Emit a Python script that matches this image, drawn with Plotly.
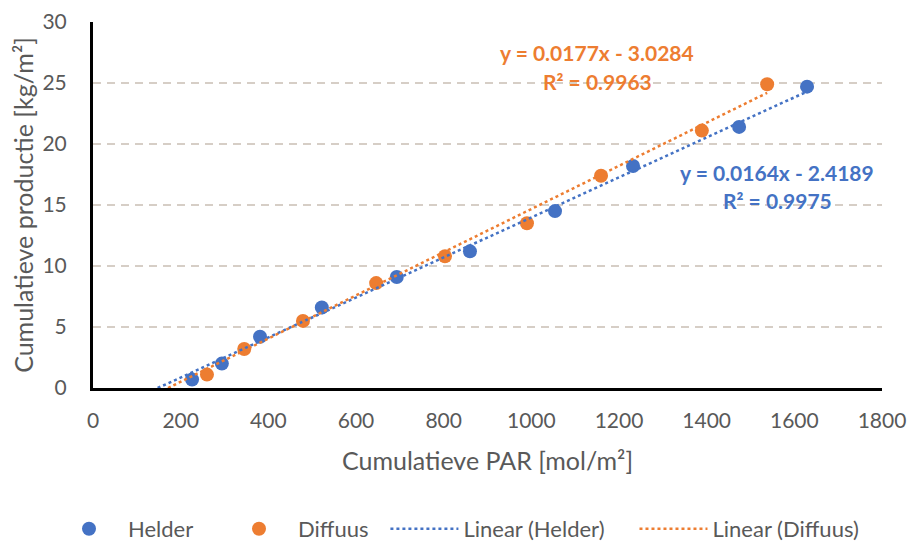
import plotly.graph_objects as go

# Cumulative PAR [mol/m2] and cumulative production [kg/m2] per treatment
helder_par = [226, 294, 381, 522, 693, 860, 1054, 1232, 1474, 1629]
helder_prod = [0.7, 2.0, 4.2, 6.6, 9.1, 11.2, 14.5, 18.2, 21.4, 24.7]
diffuus_par = [260, 345, 479, 646, 803, 990, 1159, 1389, 1538]
diffuus_prod = [1.1, 3.2, 5.5, 8.6, 10.8, 13.5, 17.4, 21.1, 24.9]

# Linear trendline coefficients: slope, intercept, R²
helder_fit = [0.0164, -2.4189, 0.9975]
diffuus_fit = [0.0177, -3.0284, 0.9963]

x_ticks = [0, 200, 400, 600, 800, 1000, 1200, 1400, 1600, 1800]
y_ticks = [0, 5, 10, 15, 20, 25, 30]

BLUE = "#4472C4"
ORANGE = "#ED7D31"
GREY = "#595959"
FONT = "Lato"


def trend_xy(fit, xs):
    slope, intercept, _ = fit
    x0 = -intercept / slope          # line starts where it crosses y = 0
    x1 = max(xs)
    return [x0, x1], [slope * x0 + intercept, slope * x1 + intercept]


fig = go.Figure()

fig.add_trace(go.Scatter(
    x=helder_par, y=helder_prod, mode="markers", name="Helder",
    marker=dict(color=BLUE, size=14), legend="legend"))
fig.add_trace(go.Scatter(
    x=diffuus_par, y=diffuus_prod, mode="markers", name="Diffuus",
    marker=dict(color=ORANGE, size=14), legend="legend"))

hx, hy = trend_xy(helder_fit, helder_par)
dx, dy = trend_xy(diffuus_fit, diffuus_par)
fig.add_trace(go.Scatter(
    x=hx, y=hy, mode="lines", name="Linear (Helder)",
    line=dict(color=BLUE, width=2.5, dash="dot"), legend="legend3"))
fig.add_trace(go.Scatter(
    x=dx, y=dy, mode="lines", name="Linear (Diffuus)",
    line=dict(color=ORANGE, width=2.5, dash="dot"), legend="legend2"))


def fit_label(fit, x, y, color):
    slope, intercept, r2 = fit
    sign = "-" if intercept < 0 else "+"
    eq = f"y = {slope:.4f}x {sign} {abs(intercept):.4f}"
    r = f"R² = {r2:.4f}"
    font = dict(family=FONT, size=21, color=color, weight="bold")
    fig.add_annotation(x=x, y=y, text=eq, showarrow=False, font=font)
    fig.add_annotation(x=x, y=y - 2.35, text=r, showarrow=False, font=font)


fit_label(diffuus_fit, 1150, 27.5, ORANGE)
fit_label(helder_fit, 1561, 17.7, BLUE)

legend_style = dict(
    orientation="h", xref="container", yref="container",
    yanchor="middle", y=0.024, xanchor="left",
    font=dict(family=FONT, size=22, color=GREY),
    itemwidth=68, bgcolor="rgba(0,0,0,0)",
)

fig.update_layout(
    width=909, height=542,
    margin=dict(l=93, r=27, t=22, b=154, autoexpand=False),
    paper_bgcolor="white", plot_bgcolor="white",
    font=dict(family=FONT, size=18, color=GREY),
    showlegend=True,
    legend=dict(legend_style, x=0.055, traceorder="normal", entrywidth=87),
    legend3=dict(legend_style, x=0.424),
    legend2=dict(legend_style, x=0.698),
)

fig.update_xaxes(
    range=[0, 1800], tickvals=x_ticks, ticktext=[str(v) for v in x_ticks],
    showgrid=False, zeroline=False, automargin=False,
    showline=True, linecolor="black", linewidth=3,
    ticks="", ticklabelstandoff=12,
    tickfont=dict(family=FONT, size=21, color=GREY),
    title=dict(text="Cumulatieve PAR [mol/m²]", standoff=22,
               font=dict(family=FONT, size=25, color=GREY)),
)
fig.update_yaxes(
    range=[0, 30], tickvals=y_ticks, ticktext=[str(v) for v in y_ticks],
    showgrid=True, gridcolor="#d6cec6", gridwidth=1.5, griddash="8px,6px",
    zeroline=False, automargin=False,
    showline=True, linecolor="black", linewidth=3,
    ticks="", ticklabelstandoff=19,
    tickfont=dict(family=FONT, size=21, color=GREY),
    title=dict(text="Cumulatieve productie [kg/m²]", standoff=2,
               font=dict(family=FONT, size=25, color=GREY)),
)

fig.write_html("out.html")
